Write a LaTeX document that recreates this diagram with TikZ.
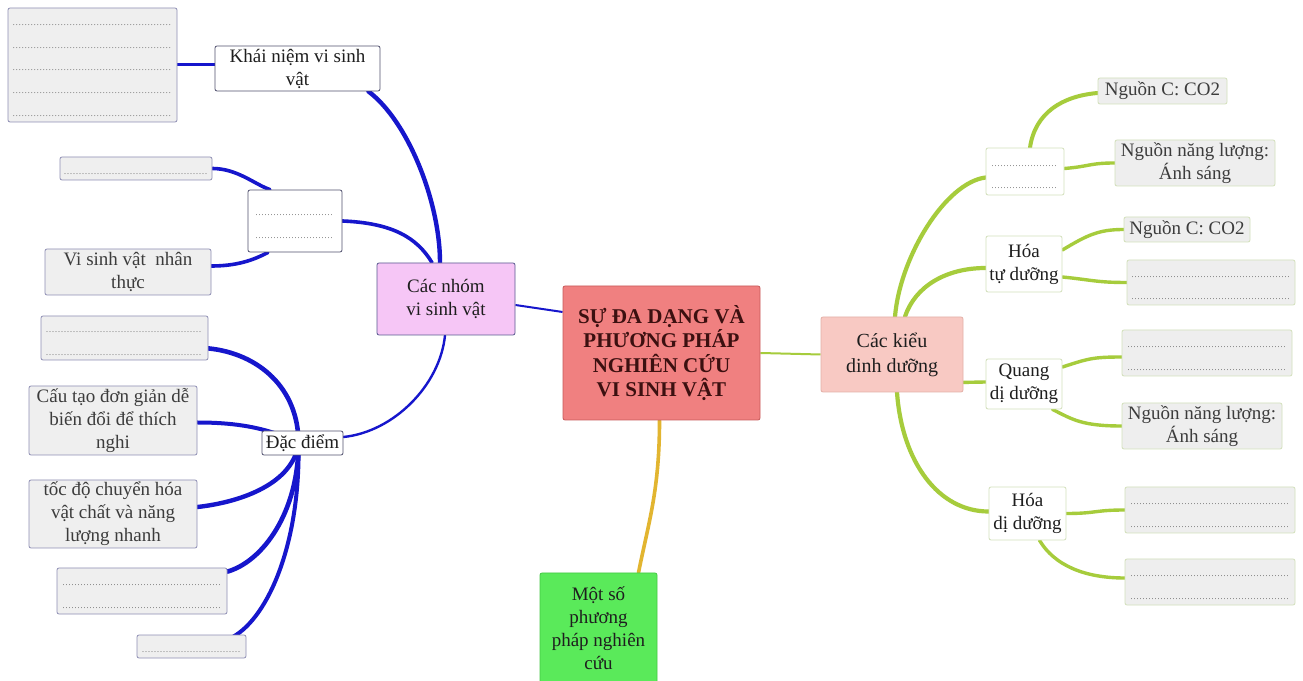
\documentclass[tikz,border=0pt]{standalone}
\usepackage{fontspec}
\setmainfont{Liberation Serif}
\usetikzlibrary{backgrounds}
\definecolor{bluec}{HTML}{1616CC}
\definecolor{greenl}{HTML}{A6CC3C}
\definecolor{orangel}{HTML}{E2B530}
\definecolor{centerfill}{HTML}{F08080}
\definecolor{centerdraw}{HTML}{C85A5A}
\definecolor{nhomfill}{HTML}{F6C6F6}
\definecolor{nhomdraw}{HTML}{5A5A90}
\definecolor{kieufill}{HTML}{F8C9C3}
\definecolor{kieudraw}{HTML}{E4B0A8}
\definecolor{motfill}{HTML}{5AEA5A}
\definecolor{motdraw}{HTML}{44C844}
\definecolor{gfill}{HTML}{EFEFEF}
\definecolor{lbord}{HTML}{8E8EB4}
\definecolor{rfill}{HTML}{EEEEEE}
\definecolor{rbord}{HTML}{D3E0BC}
\definecolor{wbord}{HTML}{50506E}
\definecolor{txt}{HTML}{1E1E1E}
\definecolor{gtxt}{HTML}{3C3C3C}
\definecolor{dotc}{HTML}{505050}
\newcommand\dotline[1]{\hbox to #1{\color{dotc}\vrule height 12pt width 0pt\leaders\hbox to 3pt{\hss\fontsize{8}{8}\selectfont.\hss}\hfill}}
\tikzset{
  sz/.style 2 args={minimum width=#1pt, minimum height=#2pt},
  base/.style={rounded corners=2pt, inner sep=0pt, align=center, font=\fontsize{19}{23}\selectfont, text=txt},
  gbox/.style={base, fill=gfill, draw=lbord, line width=0.8pt, text=gtxt},
  wbox/.style={base, fill=white, draw=wbord, line width=0.8pt},
  rbox/.style={base, fill=rfill, draw=rbord, line width=0.8pt, text=gtxt},
  rwbox/.style={base, fill=white, draw=rbord, line width=0.8pt},
  dotbox/.style={font=\fontsize{8}{22.7}\selectfont, text=gtxt},
  bl/.style={draw=bluec, line width=3.6pt, line cap=round},
  blthin/.style={draw=bluec, line width=2pt},
  gr/.style={draw=greenl, line width=3.4pt, line cap=round},
  grthin/.style={draw=greenl, line width=2pt},
  orl/.style={draw=orangel, line width=3.6pt, line cap=round},
}
\begin{document}
\begin{tikzpicture}[x=1pt,y=1pt]
\useasboundingbox (0,0) rectangle (1303,680);

% ---------- left side ----------
\node[gbox, dotbox, sz={169}{114}] (knbox) at (92.5,615) {\dotline{160pt}\\\dotline{160pt}\\\dotline{160pt}\\\dotline{160pt}\\\dotline{160pt}};
\node[wbox, sz={165}{45}] (khainiem) at (297.5,611.5) {Khái niệm vi sinh\\vật};
\node[gbox, dotbox, sz={152}{23}] (d1) at (136,511.5) {\dotline{145pt}};
\node[wbox, dotbox, sz={94}{62}] (nhom2) at (295,459) {\dotline{80pt}\\\dotline{80pt}};
\node[gbox, sz={166}{46}] (vsv) at (128,408) {Vi sinh vật\ \ nhân\\thực};
\node[base, fill=nhomfill, draw=nhomdraw, line width=0.8pt, sz={138}{72}] (cacnhom) at (446,381) {Các nhóm\\vi sinh vật};
\node[gbox, dotbox, sz={167}{44}] (d2) at (124.5,342) {\dotline{158pt}\\\dotline{158pt}};
\node[wbox, sz={81}{24}] (dacdiem) at (302.5,237) {Đặc điểm};
\node[gbox, sz={168}{69}] (cautao) at (113,259.5) {Cấu tạo đơn giản dễ\\biến đổi để thích\\nghi};
\node[gbox, sz={168}{68}] (tocdo) at (113,166) {tốc độ chuyển hóa\\vật chất và năng\\lượng nhanh};
\node[gbox, dotbox, sz={170}{46}] (d3) at (142,89) {\dotline{160pt}\\\dotline{160pt}};
\node[gbox, dotbox, sz={109}{23}] (d4) at (191.5,33.5) {\dotline{100pt}};

% ---------- centre ----------
\node[base, fill=centerfill, draw=centerdraw, line width=0.8pt, sz={197}{134},
      font=\bfseries\fontsize{21}{24.5}\selectfont, text={rgb,255:red,60;green,16;blue,16}] (center) at (661.5,327)
      {SỰ ĐA DẠNG VÀ\\PHƯƠNG PHÁP\\NGHIÊN CỨU\\VI SINH VẬT};
\node[base, fill=motfill, draw=motdraw, line width=0.8pt, sz={117}{110}] (motso) at (598.5,52)
      {Một số\\phương\\pháp nghiên\\cứu};

% ---------- right side ----------
\node[base, fill=kieufill, draw=kieudraw, line width=0.8pt, sz={142}{75}, font=\fontsize{20}{25}\selectfont] (cackieu) at (892,325.5) {Các kiểu\\dinh dưỡng};
\node[rwbox, dotbox, sz={78}{47}] (r1) at (1025,508.5) {\dotline{68pt}\\\dotline{68pt}};
\node[rbox, sz={129}{26}] (nc1) at (1162.5,589) {Nguồn C: CO2};
\node[rbox, sz={160}{46}] (nl1) at (1195,517) {Nguồn năng lượng:\\Ánh sáng};
\node[rwbox, sz={76}{56}] (hoatu) at (1024,416) {Hóa\\tự dưỡng};
\node[rbox, sz={126}{25}] (nc2) at (1187,450.5) {Nguồn C: CO2};
\node[rbox, dotbox, sz={168}{45}] (rd2) at (1211,397.5) {\dotline{160pt}\\\dotline{160pt}};
\node[rwbox, sz={76}{50}] (quang) at (1024,296) {Quang\\dị dưỡng};
\node[rbox, dotbox, sz={170}{46}] (rd3) at (1207,327) {\dotline{160pt}\\\dotline{160pt}};
\node[rbox, sz={160}{46}] (nl2) at (1202,254) {Nguồn năng lượng:\\Ánh sáng};
\node[rwbox, sz={77}{53}] (hoadi) at (1027.5,166.5) {Hóa\\dị dưỡng};
\node[rbox, dotbox, sz={170}{46}] (rd4) at (1210,170) {\dotline{160pt}\\\dotline{160pt}};
\node[rbox, dotbox, sz={170}{46}] (rd5) at (1210,98) {\dotline{160pt}\\\dotline{160pt}};

\coordinate (hub) at ([xshift=-4pt]dacdiem.center);

\begin{pgfonlayer}{background}
\fill[white] (0,0) rectangle (1303,680);
% left connectors
\draw[bl, line width=3pt] (knbox.east) -- (knbox.east -| khainiem.west);
\draw[bl, line width=4.4pt] ([xshift=-12pt]khainiem.south east) .. controls +(40,-30) and +(0,60) .. ([xshift=-6pt]cacnhom.north);
\draw[bl] (nhom2.east) .. controls +(50,-2) and +(-15,25) .. ([xshift=-14pt]cacnhom.north);
\draw[bl] (d1.east) .. controls +(25,0) and +(-15,5) .. ([xshift=-25pt]nhom2.north);
\draw[bl] ([xshift=-27pt]nhom2.south) .. controls +(-15,-8) and +(25,0) .. ([yshift=6pt]vsv.east);
\draw[blthin] ([yshift=-6pt]cacnhom.east) -- ([yshift=41pt]center.west);
\draw[bl, line width=2.4pt] ([xshift=-1pt]cacnhom.south) .. controls +(-5,-50) and +(50,5) .. ([yshift=6pt]dacdiem.east);
\draw[bl, line width=4.6pt] (hub) .. controls +(0,55) and +(50,-5) .. ([yshift=12pt]d2.south east);
\draw[bl, line width=4pt] (hub) .. controls +(-30,15) and +(40,0) .. ([yshift=-2pt]cautao.east);
\draw[bl, line width=4.4pt] (hub) .. controls +(-5,-40) and +(45,5) .. ([yshift=7pt]tocdo.east);
\draw[bl, line width=4.6pt] (hub) .. controls +(0,-70) and +(35,10) .. ([yshift=-4pt]d3.north east);
\draw[bl, line width=4pt] (hub) .. controls +(2,-100) and +(35,20) .. ([xshift=-13pt,yshift=-2pt]d4.north east);
% centre connectors
\draw[orl] ([xshift=-2pt]center.south) .. controls +(0,-70) and +(10,50) .. ([xshift=40pt]motso.north);
\draw[grthin] (center.east) -- (cackieu.west);
% right connectors
\draw[gr, line width=4.2pt] ([xshift=3pt]cackieu.north) .. controls +(5,60) and +(-40,-5) .. ([yshift=-6pt]r1.west);
\draw[gr, line width=4.2pt] ([xshift=13pt]cackieu.north) .. controls +(10,30) and +(-40,0) .. ([yshift=-4pt]hoatu.west);
\draw[gr] ([yshift=10pt]cackieu.south east) -- ([yshift=2pt]quang.west);
\draw[gr, line width=4.2pt] ([xshift=5pt]cackieu.south) .. controls +(5,-70) and +(-50,0) .. ([yshift=2pt]hoadi.west);
\draw[gr, line width=4pt] ([xshift=5pt]r1.north) .. controls +(5,35) and +(-35,-3) .. ([yshift=-2pt]nc1.west);
\draw[gr] ([yshift=3pt]r1.east) .. controls +(25,2) and +(-25,0) .. (nl1.west);
\draw[gr] ([yshift=14pt]hoatu.east) .. controls +(25,15) and +(-25,0) .. (nc2.west);
\draw[gr] ([yshift=-13pt]hoatu.east) .. controls +(30,-3) and +(-30,0) .. (rd2.west);
\draw[gr] ([yshift=17pt]quang.east) .. controls +(25,8) and +(-30,0) .. ([yshift=-4pt]rd3.west);
\draw[gr] ([xshift=-10pt]quang.south east) .. controls +(20,-10) and +(-40,0) .. (nl2.west);
\draw[gr] (hoadi.east) .. controls +(30,0) and +(-30,0) .. (rd4.west);
\draw[gr] ([xshift=12pt]hoadi.south) .. controls +(15,-25) and +(-40,0) .. ([yshift=4pt]rd5.west);
\end{pgfonlayer}
\end{tikzpicture}
\end{document}
